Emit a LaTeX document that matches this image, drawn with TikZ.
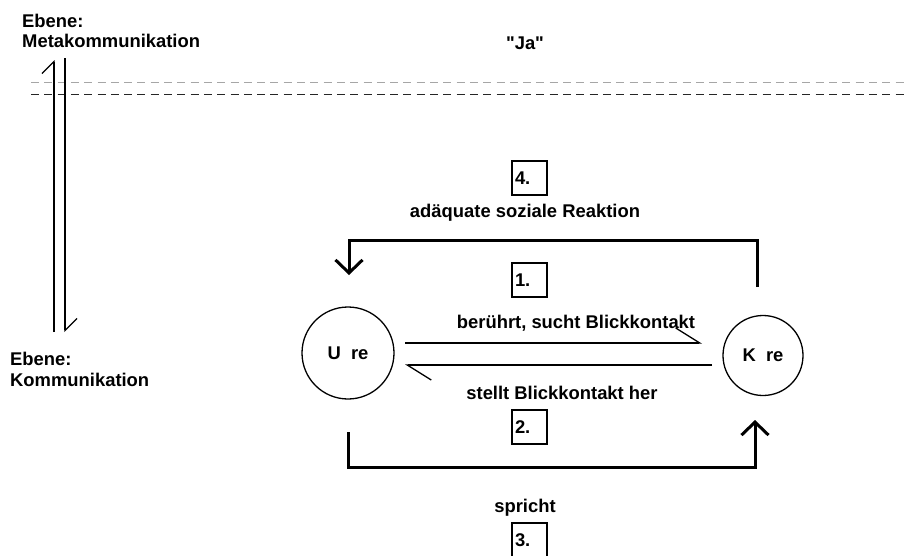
\documentclass[tikz,border=0pt]{standalone}
\usepackage{fontspec}
\setmainfont{Liberation Sans}
\newfontfamily\plainsans{Liberation Sans}
\usetikzlibrary{arrows.meta}
\begin{document}
\begin{tikzpicture}[x=1pt,y=-1pt,
  lbl/.style={font=\fontsize{18.4}{22}\selectfont\bfseries, inner sep=0pt},
  numbox/.style={draw, line width=1.5pt, minimum width=35pt, minimum height=34pt, inner sep=0pt, font=\fontsize{18.4}{22}\selectfont\bfseries, text width=29pt, align=left},
  circ/.style={draw, circle, line width=1.3pt, inner sep=0pt, font=\fontsize{18.4}{22}\selectfont\bfseries},
  thinln/.style={line width=1.3pt},
  thickln/.style={line width=3pt, line join=miter},
  harp/.style={thinln, -{Straight Barb[left, length=24pt, width=30pt, line width=1.3pt]}},
  harpv/.style={thinln, -{Straight Barb[left, length=12pt, width=24pt, line width=1.3pt]}},
  chev/.style={thickln, -{Straight Barb[length=13pt, width=27pt, line width=3pt]}},
  dashln/.style={line width=1pt, dash pattern=on 8pt off 5.3pt}
]
\useasboundingbox (0,0) rectangle (905,555);

% level labels
\node[lbl, anchor=base west] (e1) at (22,27) {Ebene:};
\node[lbl, anchor=base west] (m1) at (22,47) {Metakommunikation};
\node[lbl, anchor=base west] (e2) at (10,365) {Ebene:};
\node[lbl, anchor=base west] (k2) at (10,386) {Kommunikation};
\node[lbl, anchor=base] (ja) at (525,49) {\plainsans\bfseries "Ja"};

% dashed lines
\coordinate (d1a) at (31,82); \coordinate (d1b) at (905,82);
\coordinate (d2a) at (31,94); \coordinate (d2b) at (905,94);
\draw[dashln, gray!70] (d1a) -- (d1b);
\draw[dashln, black!85] (d2a) -- (d2b);

% vertical level harpoons
\coordinate (vl1) at (54,332); \coordinate (vl2) at (54,60);
\coordinate (vr1) at (65,58); \coordinate (vr2) at (65,332);
\draw[harpv] (vl1) -- (vl2);
\draw[harpv] (vr1) -- (vr2);

% circles
\node[circ, minimum size=92pt] (U) at (348,353) {U\ \ re};
\node[circ, minimum size=80pt] (K) at (763,355.5) {K\ \ re};

% middle harpoons
\coordinate (h1a) at (405,343); \coordinate (h1b) at (702,343);
\coordinate (h2a) at (712,365); \coordinate (h2b) at (405,365);
\draw[harp] (h1a) -- (h1b);
\draw[harp] (h2a) -- (h2b);
\node[lbl, anchor=base] (t1) at (576,328) {berührt, sucht Blickkontakt};
\node[lbl, anchor=base] (t2) at (562,399) {stellt Blickkontakt her};

% upper bracket
\coordinate (ub1) at (757,287); \coordinate (ub2) at (349,275);
\draw[chev] (ub1) -- (757,240) -- (349,240) -- (ub2);
% lower bracket
\coordinate (lb1) at (348,432); \coordinate (lb2) at (755,420);
\draw[chev] (lb1) -- (348,467) -- (755,467) -- (lb2);

% labels and number boxes
\node[numbox] (n4) at (529.5,178) {4.};
\node[lbl, anchor=base] (t4) at (525,217) {adäquate soziale Reaktion};
\node[numbox] (n1) at (529.5,280) {1.};
\node[numbox] (n2) at (529.5,427) {2.};
\node[lbl, anchor=base] (t3) at (525,512) {spricht};
\node[numbox] (n3) at (529.5,540) {3.};
\end{tikzpicture}
\end{document}
